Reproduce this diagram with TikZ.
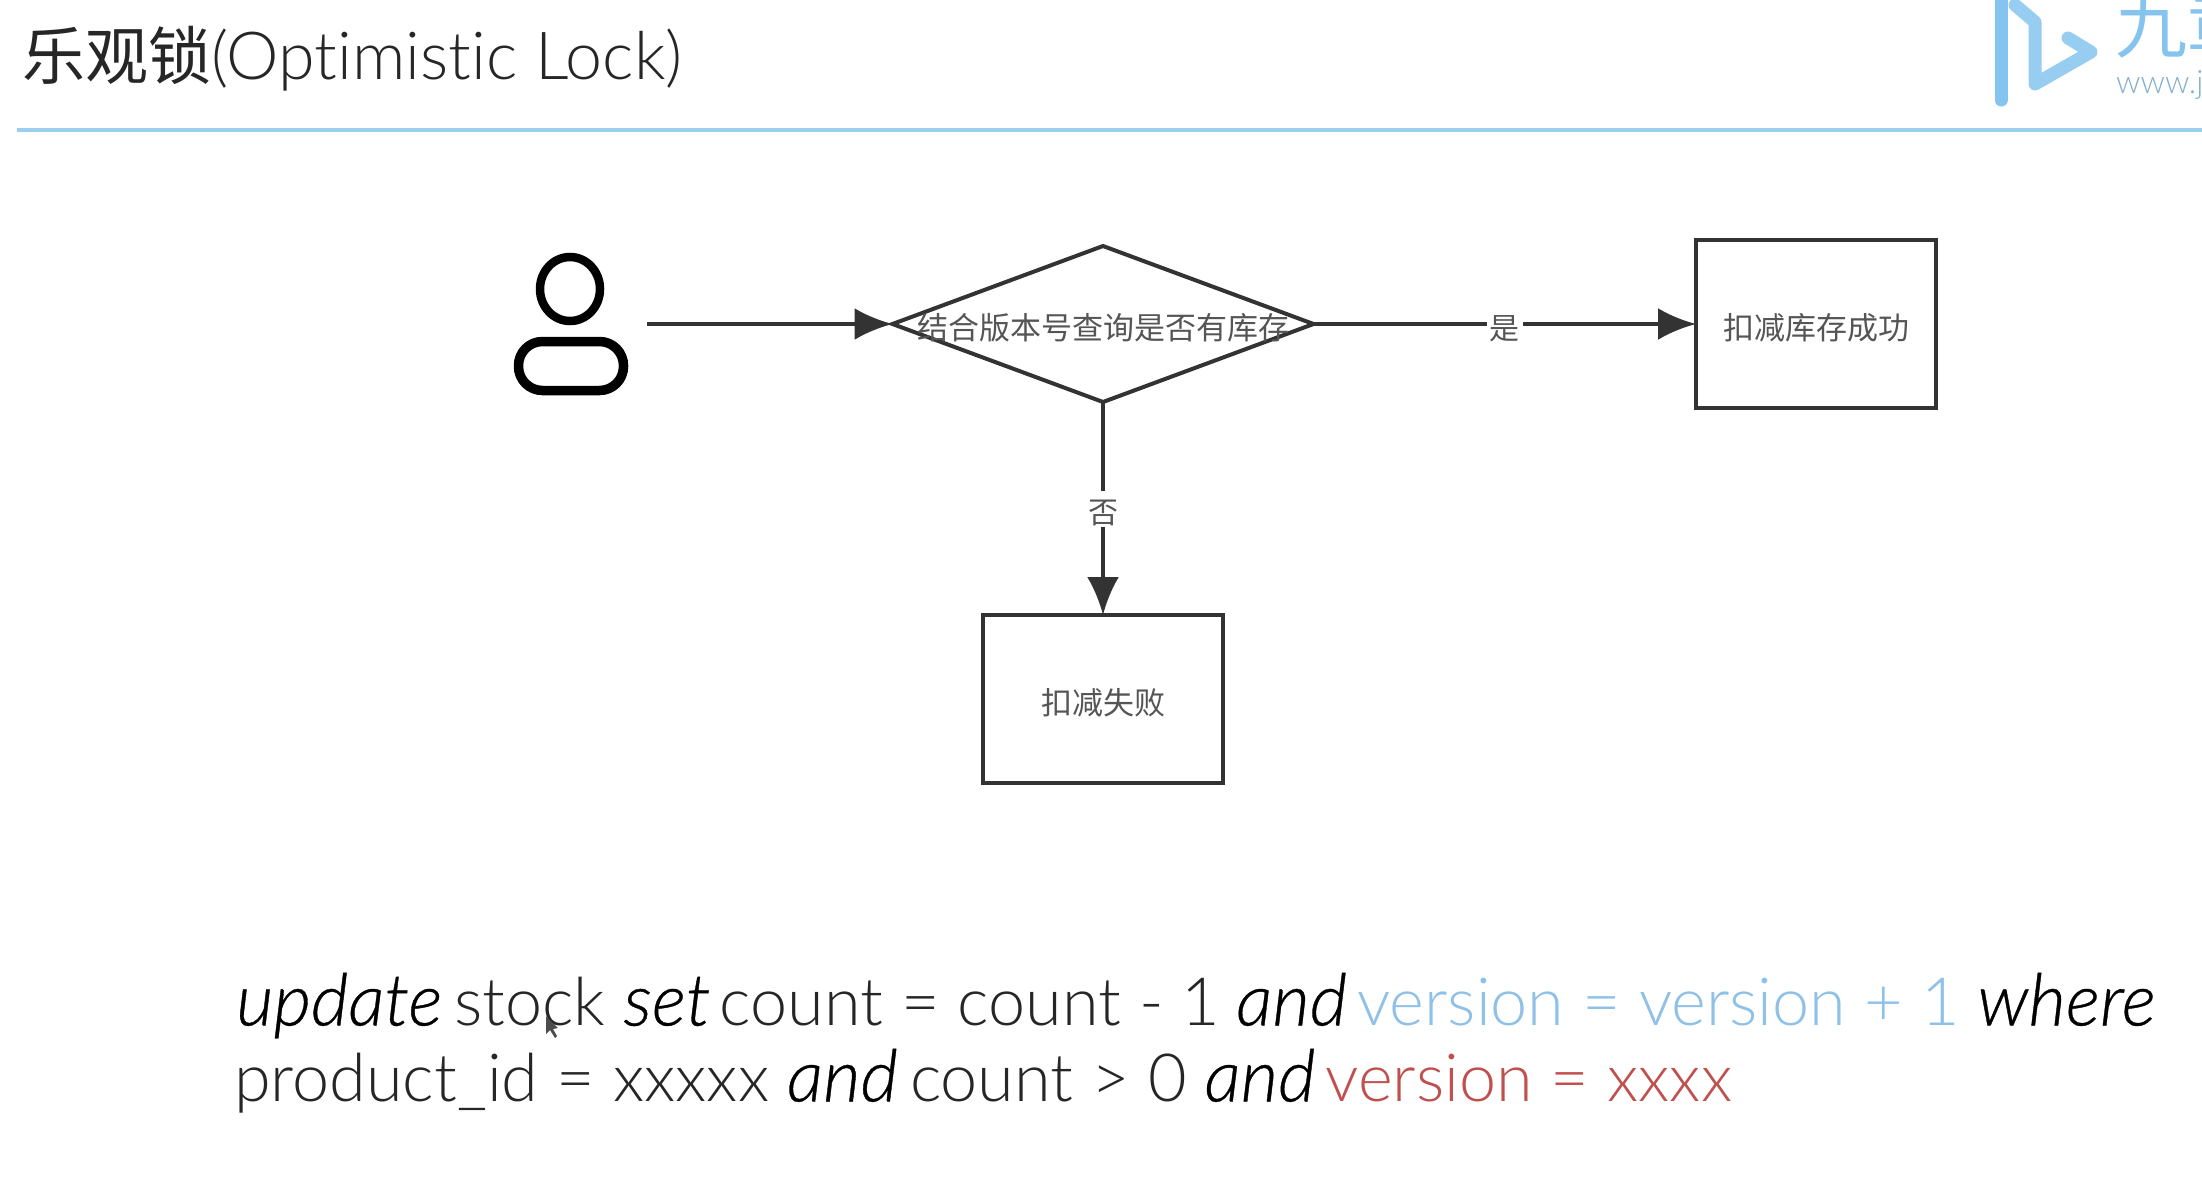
\documentclass[tikz,border=0pt]{standalone}
\usepackage{fontspec}
\setmainfont{Lato Light}[Ligatures=NoCommon,ItalicFont={Lato Light Italic},ItalicFeatures={Scale=1.09,FakeBold=0.5}]
\newfontfamily\cjk{Noto Sans CJK SC}
\usetikzlibrary{arrows.meta,shapes.geometric}
\definecolor{rulecol}{HTML}{9CCFEF}
\definecolor{logocol}{HTML}{85C4EE}
\definecolor{linecol}{HTML}{333333}
\definecolor{boxtext}{HTML}{555555}
\definecolor{sqlblue}{HTML}{8FC1E8}
\definecolor{sqlred}{HTML}{C0504D}
\newcommand{\sqlkw}[1]{\textcolor{black}{\textit{#1}}\hspace{-6pt}}
\tikzset{
  flow/.style={-{Latex[length=38pt,width=32pt]}, line width=4pt, linecol},
  stagebox/.style={draw=linecol, line width=4pt, rectangle, minimum width=240pt, minimum height=168pt, outer sep=0pt, text=boxtext, text height=30pt, text depth=0pt, font=\cjk\fontsize{31}{36}\selectfont},
  decision/.style={draw=linecol, line width=4pt, diamond, aspect=2.7, minimum width=421pt, minimum height=156pt, inner sep=0pt, outer sep=0pt, text=boxtext, text height=30pt, text depth=0pt, font=\cjk\fontsize{31}{36}\selectfont},
  edgelabel/.style={fill=white, inner sep=3pt, text=boxtext, text height=30pt, text depth=0pt, font=\cjk\fontsize{30}{34}\selectfont},
  sqlline/.style={anchor=base west, inner sep=0pt, text=black!85, font=\fontsize{66.5}{74}\selectfont},
}
\begin{document}
\begin{tikzpicture}[x=1pt,y=-1pt]
\useasboundingbox (0,0) rectangle (2202,1186);

% Header
\node[anchor=base west, inner sep=0pt, text=black!85, font=\fontsize{66.3}{76}\selectfont] (title) at (22,79) {{\cjk\fontsize{63}{76}\selectfont 乐观锁}(Optimistic Lock)};
\coordinate (ruleleft) at (17,130);
\coordinate (ruleright) at (2202,130);
\draw[rulecol, line width=4pt] (ruleleft) -- (ruleright);

% Logo
\draw[logocol, line width=13pt, line cap=round] (2001,-5) -- (2001,100);
\draw[logocol!85, line width=13pt, line cap=round, line join=round] (2015,5) -- (2035,22) -- (2035,84) -- (2091,52) -- (2068,38);
\node[anchor=base west, inner sep=0pt, text=logocol, font=\cjk\fontsize{72}{72}\selectfont] (logotext) at (2115,52) {九章};
\node[anchor=base west, inner sep=0pt, text=logocol!70!gray, font=\fontsize{32}{34}\selectfont] (logourl) at (2116,93) {www.j};

% User
\node[draw=black, line width=8.5pt, ellipse, minimum width=60pt, minimum height=64pt, inner sep=0pt] (head) at (570,289) {};
\node[draw=black, line width=9.5pt, rectangle, rounded corners=24pt, minimum width=105pt, minimum height=49pt, inner sep=0pt] (body) at (571,366) {};
\coordinate (userout) at (647,324);

% Decision and results
\node[decision] (check) at (1103,324) {\makebox[0pt]{结合版本号查询是否有库存}};
\node[stagebox] (okbox) at (1816,324) {扣减库存成功};
\node[stagebox] (failbox) at (1103,699) {扣减失败};

% Arrows
\draw[flow] (userout) -- (check.west);
\draw[flow] (check.east) -- node[edgelabel] (yes) {是} (okbox.west);
\draw[flow] (check.south) -- node[edgelabel] (no) {否} (failbox.north);

% SQL
\node[sqlline] (sqlone) at (236,1025.5) {\sqlkw{update} stock \sqlkw{set}\hspace{-3pt} count = count - 1\hspace{-2pt} \sqlkw{and}\hspace{-2pt} \textcolor{sqlblue}{version = version + 1} \textcolor{black}{\textit{where}}};
\node[sqlline] (sqltwo) at (234,1101.5) {product\_id = xxxxx \sqlkw{and} count > 0 \sqlkw{and}\hspace{-2pt} \textcolor{sqlred}{version = xxxx}};

% Cursor
\fill[black!70] (546,1016) -- (546,1034) -- (550,1030) -- (555,1038) -- (557,1036) -- (553,1029) -- (558,1028) -- cycle;
\end{tikzpicture}
\end{document}
